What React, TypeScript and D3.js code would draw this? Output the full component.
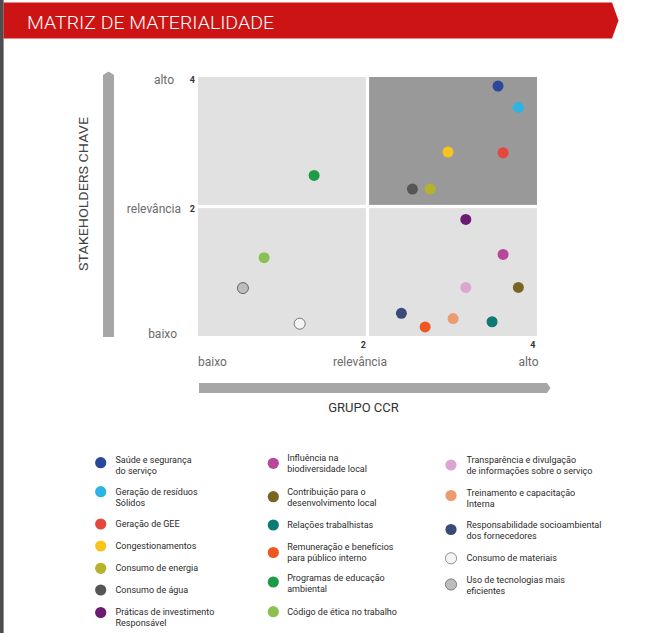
import React from "react";
import * as d3 from "d3";

// ---------- DATA ----------
const categories = [
  "Saúde e segurança\ndo serviço",
  "Geração de resíduos\nSólidos",
  "Geração de GEE",
  "Congestionamentos",
  "Consumo de energia",
  "Consumo de água",
  "Práticas de investimento\nResponsável",
  "Influência na\nbiodiversidade local",
  "Contribuição para o\ndesenvolvimento local",
  "Relações trabalhistas",
  "Remuneração e benefícios\npara público interno",
  "Programas de educação\nambiental",
  "Código de ética no trabalho",
  "Transparência e divulgação\nde informações sobre o serviço",
  "Treinamento e capacitação\nInterna",
  "Responsabilidade socioambiental\ndos fornecedores",
  "Consumo de materiais",
  "Uso de tecnologias mais\neficientes",
];

// GRUPO CCR (x) and STAKEHOLDERS CHAVE (y) scores
const grupoCCR = [3.54, 3.78, 3.6, 2.95, 2.74, 2.53, 3.16, 3.6, 3.78, 3.47, 2.68, 1.37, 0.78, 3.16, 3.01, 2.4, 1.2, 0.53];
const stakeholders = [3.86, 3.53, 2.83, 2.84, 2.27, 2.27, 1.8, 1.26, 0.75, 0.22, 0.14, 2.48, 1.21, 0.75, 0.27, 0.35, 0.19, 0.74];

const colors = [
  "#2a479a", "#2cb4e6", "#e5473d", "#f6c51b", "#b7b22b", "#565656",
  "#6b1a72", "#b6479b", "#7a6422", "#0d7a73", "#ef5620", "#1f9a47",
  "#8bc153", "#dba5d1", "#eb9b6f", "#3b4b78", "#f4f4f4", "#bdbdbd",
];
const strokes = [
  "none", "none", "none", "none", "none", "none", "none", "none", "none",
  "none", "none", "none", "none", "none", "none", "none", "#777777", "#666666",
];

const xTicks = [2, 4];
const yTicks = [2, 4];
const levelLabels = ["baixo", "relevância", "alto"];

// ---------- LAYOUT ----------
const W = 663;
const H = 633;
const plot = { left: 198, right: 537, top: 77, bottom: 336 };
const gap = 1.6;

// legend layout: column x for dots/text, per-item dot y and first-line y
const legendCols = [
  { dotX: 100.7, textX: 115.5, items: [0, 1, 2, 3, 4, 5, 6] },
  { dotX: 273.3, textX: 287.2, items: [7, 8, 9, 10, 11, 12] },
  { dotX: 451, textX: 466.5, items: [13, 14, 15, 16, 17] },
];
const legendDotY: Record<number, number> = {
  0: 462.7, 1: 491.7, 2: 524, 3: 546, 4: 568.3, 5: 590, 6: 612.5,
  7: 463.3, 8: 496.7, 9: 525, 10: 552.5, 11: 582, 12: 611.7,
  13: 465, 14: 495.5, 15: 529.5, 16: 558.3, 17: 584.5,
};
const legendTextY: Record<number, number> = {
  0: 459.3, 1: 491.5, 2: 523.5, 3: 546, 4: 567.8, 5: 589.7, 6: 612,
  7: 457.3, 8: 491.5, 9: 525, 10: 547, 11: 577.5, 12: 611.7,
  13: 460, 14: 492.3, 15: 525, 16: 557.8, 17: 580,
};
const lineH = 11;

export default function App() {
  const x = d3.scaleLinear().domain([0, 4]).range([plot.left, plot.right]);
  const y = d3.scaleLinear().domain([0, 4]).range([plot.bottom, plot.top]);
  const mx = x(2);
  const my = y(2);

  const quads = [
    { x0: plot.left, x1: mx - gap, y0: plot.top, y1: my - gap, fill: "#e2e1e1" },
    { x0: mx + gap, x1: plot.right, y0: plot.top, y1: my - gap, fill: "#999999" },
    { x0: plot.left, x1: mx - gap, y0: my + gap, y1: plot.bottom, fill: "#e2e1e1" },
    { x0: mx + gap, x1: plot.right, y0: my + gap, y1: plot.bottom, fill: "#e2e1e1" },
  ];

  const font = "Roboto, 'Open Sans', sans-serif";

  return (
    <svg
      width={W}
      height={H}
      viewBox={`0 0 ${W} ${H}`}
      style={{ position: "absolute", left: 0, top: 0, background: "#ffffff" }}
      fontFamily={font}
    >
      <rect x={0} y={0} width={W} height={H} fill="#ffffff" />
      {/* left dark strip */}
      <rect x={0} y={0} width={3.6} height={H} fill="#4d4d4d" />
      {/* header banner */}
      <path d="M3.6,2.5 L612,2.5 L618.5,20.5 L612,38.5 L3.6,38.5 Z" fill="#cc1414" />
      <text
        x={27}
        y={28.5}
        fill="#ffffff"
        fontSize={18.5}
        fontWeight={300}
        textLength={247}
        lengthAdjust="spacingAndGlyphs"
      >
        MATRIZ DE MATERIALIDADE
      </text>

      {/* quadrants */}
      {quads.map((q, i) => (
        <rect key={i} x={q.x0} y={q.y0} width={q.x1 - q.x0} height={q.y1 - q.y0} fill={q.fill} />
      ))}

      {/* y tick labels */}
      {yTicks.map((t) => (
        <text key={"yt" + t} x={plot.left - 3} y={y(t) + (t === 4 ? 5.5 : 5)} fontSize={9} fontWeight={700} fill="#333" textAnchor="end">
          {t}
        </text>
      ))}
      {/* x tick labels */}
      {xTicks.map((t) => (
        <text key={"xt" + t} x={x(t) - 1.5} y={plot.bottom + 12} fontSize={9} fontWeight={700} fill="#333" textAnchor="end">
          {t}
        </text>
      ))}

      {/* y level labels */}
      <text x={174} y={83.5} fontSize={12} fill="#6b6b6b" textAnchor="end">{levelLabels[2]}</text>
      <text x={181} y={212.5} fontSize={12} fill="#6b6b6b" textAnchor="end">{levelLabels[1]}</text>
      <text x={177} y={337.5} fontSize={12} fill="#6b6b6b" textAnchor="end">{levelLabels[0]}</text>

      {/* x level labels */}
      <text x={plot.left} y={365.5} fontSize={12} fill="#6b6b6b" textAnchor="start">{levelLabels[0]}</text>
      <text x={360} y={365.5} fontSize={12} fill="#6b6b6b" textAnchor="middle">{levelLabels[1]}</text>
      <text x={538.5} y={365.5} fontSize={12} fill="#6b6b6b" textAnchor="end">{levelLabels[2]}</text>

      {/* vertical arrow bar */}
      <path d="M103,337 L103,75 L108.5,71.5 L114,75 L114,337 Z" fill="#a6a6a6" />
      <text
        transform="translate(87.5,194) rotate(-90)"
        fontSize={13.5}
        fill="#444"
        textAnchor="middle"
        textLength={154}
        lengthAdjust="spacingAndGlyphs"
      >
        STAKEHOLDERS CHAVE
      </text>

      {/* horizontal arrow bar */}
      <path d="M199,383 L547,383 L550.5,388 L547,393 L199,393 Z" fill="#a6a6a6" />
      <text x={363.5} y={412} fontSize={13} fill="#333" textAnchor="middle">GRUPO CCR</text>

      {/* points */}
      {categories.map((c, i) => (
        <circle
          key={"p" + i}
          cx={x(grupoCCR[i])}
          cy={y(stakeholders[i])}
          r={5.5}
          fill={colors[i]}
          stroke={strokes[i]}
          strokeWidth={strokes[i] === "none" ? 0 : 1}
        />
      ))}

      {/* legend */}
      {legendCols.map((col, ci) =>
        col.items.map((i) => {
          const lines = categories[i].split("\n");
          return (
            <g key={"lg" + ci + "-" + i}>
              <circle
                cx={col.dotX}
                cy={legendDotY[i]}
                r={5.6}
                fill={colors[i]}
                stroke={strokes[i]}
                strokeWidth={strokes[i] === "none" ? 0 : 0.8}
              />
              <text x={col.textX} y={legendTextY[i] + 3.2} fontSize={9} fill="#2b2b2b">
                {lines.map((l, li) => (
                  <tspan key={li} x={col.textX} dy={li === 0 ? 0 : lineH}>
                    {l}
                  </tspan>
                ))}
              </text>
            </g>
          );
        })
      )}
    </svg>
  );
}
